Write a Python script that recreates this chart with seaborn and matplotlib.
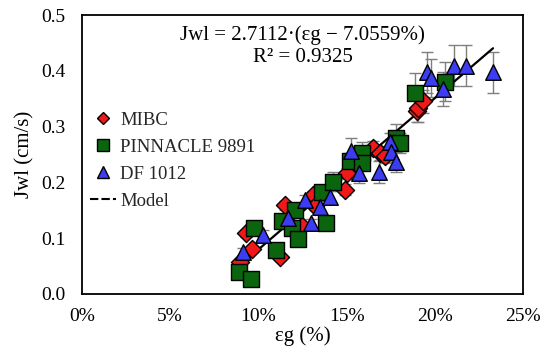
import numpy as np
import pandas as pd
import seaborn as sns
import matplotlib
matplotlib.use("Agg")
import matplotlib.pyplot as plt
from matplotlib.lines import Line2D
from matplotlib.ticker import FuncFormatter

# ---------------- data ----------------
mibc_eps = [8.96, 9.62, 9.28, 11.2, 11.5, 12.45, 13.1, 13.2, 14.9, 15.0, 16.5, 16.9, 17.2, 18.97, 19.07, 19.35]
mibc_j   = [0.058, 0.080, 0.109, 0.066, 0.159, 0.121, 0.177, 0.158, 0.187, 0.216, 0.262, 0.253, 0.247, 0.328, 0.333, 0.345]
mibc_err = [0.005, 0.005, 0.006, 0.005, 0.008, 0.006, 0.008, 0.008, 0.010, 0.010, 0.012, 0.012, 0.012, 0.020, 0.025, 0.020]

pin_eps = [8.9, 9.58, 9.77, 10.99, 11.32, 11.9, 12.07, 12.23, 13.6, 13.83, 14.25, 15.2, 15.86, 15.9, 17.8, 18.0, 18.9, 20.58]
pin_j   = [0.040, 0.027, 0.119, 0.079, 0.130, 0.118, 0.151, 0.098, 0.183, 0.128, 0.201, 0.238, 0.252, 0.234, 0.279, 0.270, 0.361, 0.380]
pin_err = [0.004, 0.003, 0.006, 0.005, 0.008, 0.006, 0.010, 0.006, 0.010, 0.007, 0.017, 0.015, 0.020, 0.012, 0.025, 0.018, 0.035, 0.035]

df_eps = [9.11, 10.28, 11.7, 12.64, 12.96, 13.5, 14.06, 15.23, 15.72, 16.85, 17.46, 17.5, 17.8, 19.54, 19.77, 20.45, 21.09, 21.75, 23.3]
df_j   = [0.076, 0.106, 0.137, 0.168, 0.127, 0.156, 0.173, 0.257, 0.216, 0.219, 0.273, 0.255, 0.237, 0.397, 0.387, 0.367, 0.409, 0.409, 0.397]
df_err = [0.006, 0.008, 0.008, 0.010, 0.008, 0.010, 0.012, 0.022, 0.017, 0.020, 0.015, 0.018, 0.018, 0.037, 0.034, 0.030, 0.037, 0.037, 0.036]

series_names = ["MIBC", "PINNACLE 9891", "DF 1012"]
model_slope = 2.7112
model_offset = 7.0559  # %
model_eps = [8.9, 23.3]

x_ticks = [0, 5, 10, 15, 20, 25]
y_ticks = [0.0, 0.1, 0.2, 0.3, 0.4, 0.5]

# ---------------- build frame ----------------
frames = []
for name, e, j, er in [(series_names[0], mibc_eps, mibc_j, mibc_err),
                       (series_names[1], pin_eps, pin_j, pin_err),
                       (series_names[2], df_eps, df_j, df_err)]:
    frames.append(pd.DataFrame({"eps": e, "J": j, "err": er, "series": name}))
data = pd.concat(frames, ignore_index=True)

model_df = pd.DataFrame({"eps": model_eps})
model_df["J"] = model_slope * (model_df["eps"] - model_offset) / 100.0

colors = {"MIBC": "#f01818", "PINNACLE 9891": "#0b650f", "DF 1012": "#3c3cf2"}
markers = {"MIBC": "D", "PINNACLE 9891": "s", "DF 1012": "^"}
sizes = {"MIBC": 85, "PINNACLE 9891": 125, "DF 1012": 125}

# ---------------- plot ----------------
sns.set_theme(style="white")
plt.rcParams["font.family"] = ["Liberation Serif", "DejaVu Serif"]

fig = plt.figure(figsize=(5.5, 3.62), dpi=100)
ax = fig.add_axes([82 / 550, 1 - 294 / 362, 441 / 550, 279 / 362])

for name in series_names:
    sub = data[data["series"] == name]
    ax.errorbar(sub["eps"], sub["J"], yerr=sub["err"], fmt="none",
                ecolor="#7f7f7f", elinewidth=1.0, capsize=4, capthick=1.0, zorder=2)

sns.lineplot(data=model_df, x="eps", y="J", color="black", linewidth=1.6,
             ax=ax, zorder=3, legend=False)

for name in series_names:
    sub = data[data["series"] == name]
    sns.scatterplot(data=sub, x="eps", y="J", marker=markers[name],
                    color=colors[name], s=sizes[name], edgecolor="black",
                    linewidth=1.0, ax=ax, zorder=4, legend=False)

ax.set_xlim(0, 25)
ax.set_ylim(0, 0.5)
ax.set_xticks(x_ticks)
ax.set_yticks(y_ticks)
ax.xaxis.set_major_formatter(FuncFormatter(lambda v, p: f"{v:.0f}%"))
ax.yaxis.set_major_formatter(FuncFormatter(lambda v, p: f"{v:.1f}"))
ax.tick_params(axis="both", length=0, labelsize=14, colors="black")
ax.tick_params(axis="x", pad=10)
ax.tick_params(axis="y", pad=12)
for sp in ax.spines.values():
    sp.set_visible(True)
    sp.set_color("black")
    sp.set_linewidth(1.3)

ax.set_xlabel("εg (%)", fontsize=15, color="black", labelpad=1)
ax.set_ylabel("Jwl (cm/s)", fontsize=15, color="black", labelpad=5)

ax.text(0.5, 0.928, "Jwl = 2.7112·(εg − 7.0559%)", transform=ax.transAxes,
        ha="center", va="center", fontsize=15, color="black")
ax.text(0.5, 0.846, "R² = 0.9325", transform=ax.transAxes,
        ha="center", va="center", fontsize=15, color="black")

handles = [
    Line2D([], [], marker="D", ls="none", markerfacecolor=colors["MIBC"], markeredgecolor="black", markersize=6),
    Line2D([], [], marker="s", ls="none", markerfacecolor=colors["PINNACLE 9891"], markeredgecolor="black", markersize=8),
    Line2D([], [], marker="^", ls="none", markerfacecolor=colors["DF 1012"], markeredgecolor="black", markersize=8),
    Line2D([], [], color="black", ls=(0, (4, 1.5)), lw=1.5),
]
leg = ax.legend(handles, series_names + ["Model"], loc="upper left",
                bbox_to_anchor=(0.0, 0.68), frameon=False, fontsize=13.5,
                handlelength=1.4, handletextpad=0.25, labelspacing=0.52,
                borderaxespad=0)

fig.savefig("out.png", dpi=100)
